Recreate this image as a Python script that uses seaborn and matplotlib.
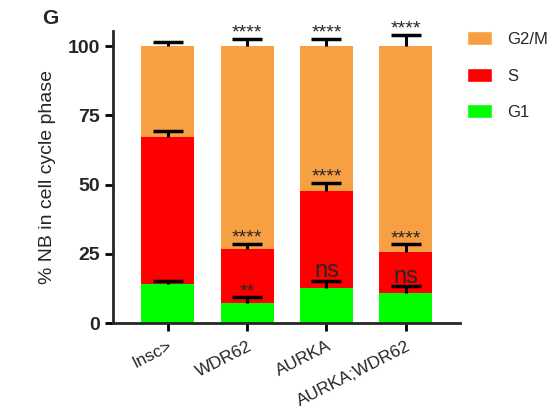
import numpy as np
import pandas as pd
import seaborn as sns
import matplotlib.pyplot as plt
from matplotlib.patches import Patch

# data (% of neuroblasts per phase)
genotypes = ["Insc>", "WDR62", "AURKA", "AURKA;WDR62"]
g1 = [14.1, 7.2, 12.6, 10.8]
s_phase = [53.1, 19.5, 35.2, 14.7]
g2m = [32.8, 73.3, 52.2, 74.5]
g1_err = [1.2, 2.1, 2.6, 2.5]
s_err = [2.0, 1.8, 2.9, 2.9]
g2m_err = [1.3, 2.6, 2.6, 4.0]
sig_g1 = ["", "**", "ns", "ns"]
sig_s = ["", "****", "****", "****"]
sig_g2m = ["", "****", "****", "****"]

colors = {"G2/M": "#F7A043", "S": "#FF0000", "G1": "#00FF00"}

df = pd.DataFrame({"genotype": genotypes, "G1": g1, "S": s_phase, "G2/M": g2m})
df["top_G1"] = df["G1"]
df["top_S"] = df["G1"] + df["S"]
df["top_G2/M"] = df["top_S"] + df["G2/M"]

sns.set_style("ticks")
plt.rcParams["font.family"] = ["Liberation Sans", "DejaVu Sans"]

fig = plt.figure(figsize=(5.6, 4.11), dpi=100)
ax = fig.add_axes([0.202, 0.214, 0.619, 0.711])

# stacked bars: draw cumulative tops back to front
for phase in ["G2/M", "S", "G1"]:
    sns.barplot(data=df, x="genotype", y="top_" + phase, color=colors[phase],
                width=0.67, saturation=1, ax=ax, errorbar=None, linewidth=0)

# upper-only error bars and significance marks
x = np.arange(len(genotypes))
for phase, err, sig in [("G1", g1_err, sig_g1), ("S", s_err, sig_s),
                        ("G2/M", g2m_err, sig_g2m)]:
    tops = df["top_" + phase].values
    ends = tops + np.array(err)
    ax.vlines(x, tops, ends, color="black", linewidth=2.2, zorder=5)
    ax.plot(x, ends, linestyle="none", marker="_", markersize=22,
            markeredgewidth=2.5, color="black", zorder=5)
    for xi, e, lab in zip(x, ends, sig):
        if not lab:
            continue
        if lab == "ns":
            ax.annotate(lab, (xi, e), xytext=(0, -1), textcoords="offset points",
                        ha="center", va="bottom", fontsize=17, zorder=6)
        else:
            ax.annotate(lab, (xi, e), xytext=(0, -2), textcoords="offset points",
                        ha="center", va="bottom", fontsize=14, zorder=6)

ax.set_xlim(-0.69, 3.68)
ax.set_ylim(0, 105.5)
ax.set_yticks([0, 25, 50, 75, 100])
ax.set_xlabel("")
ax.set_ylabel("% NB in cell cycle phase", fontsize=14, labelpad=8)
for lbl in ax.get_yticklabels():
    lbl.set_fontweight("bold")
    lbl.set_fontsize(14)
ax.set_xticks(x)
ax.set_xticklabels(genotypes, rotation=27, ha="right", rotation_mode="anchor",
                   fontsize=12.5)
ax.tick_params(axis="both", width=2, length=6, color="black")
ax.tick_params(axis="x", pad=5)
for sp in ["left", "bottom"]:
    ax.spines[sp].set_linewidth(2)
sns.despine(ax=ax)

handles = [Patch(facecolor=colors[p], label=p) for p in ["G2/M", "S", "G1"]]
fig.legend(handles=handles, loc="upper left", bbox_to_anchor=(0.813, 0.952),
           frameon=False, fontsize=12, handlelength=1.5, handleheight=0.9,
           labelspacing=1.25, handletextpad=0.9, borderpad=0.2)

fig.text(0.075, 0.955, "G", fontsize=15, fontweight="bold", va="center", ha="left")

fig.savefig("out.png", dpi=100)
